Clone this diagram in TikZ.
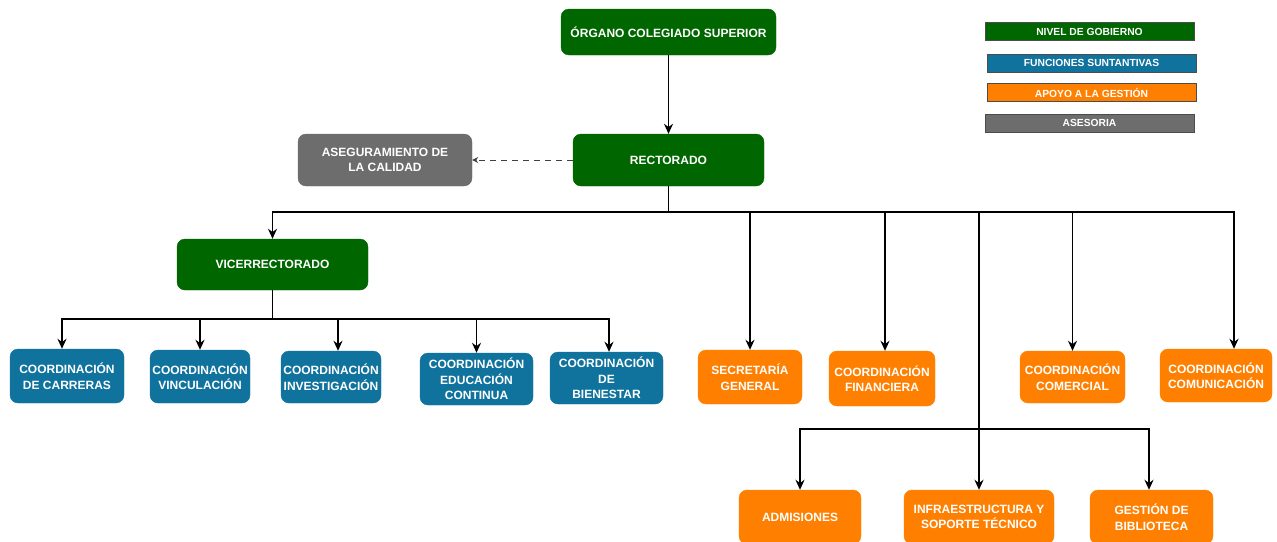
\documentclass[tikz,border=0pt]{standalone}
\usepackage{fontspec}
\setmainfont{Liberation Sans}
\usepackage{tikz}
\usetikzlibrary{positioning}
\usetikzlibrary{arrows.meta}
\definecolor{gob}{HTML}{006600}
\definecolor{fun}{HTML}{10739E}
\definecolor{apo}{HTML}{FF8000}
\definecolor{ase}{HTML}{6D6D6D}

\begin{document}
\begin{tikzpicture}[x=1pt,y=-1pt,
    gob/.style={fill=gob,draw=gob},
    fun/.style={fill=fun,draw=fun},
    apo/.style={fill=apo,draw=apo},
    ase/.style={fill=ase,draw=ase},
    arr/.style={-{Stealth[length=10pt,width=9pt]},line width=1.7pt}]
    \useasboundingbox (0,0) rectangle (1277,541);
    \begin{scope}[every node/.style={rounded corners=8pt,text=white,align=center,inner sep=0pt,
            font=\bfseries\fontsize{12}{15.5}\selectfont}]
        \node[gob,minimum width=215pt,minimum height=46pt](org) at (668.5,32) {ÓRGANO COLEGIADO SUPERIOR};
        \node[gob,minimum width=191pt,minimum height=52pt](rect) at (668.5,160) {RECTORADO};
        \node[ase,minimum width=174pt,minimum height=52pt](aseg) at (385,160) {ASEGURAMIENTO DE\\LA CALIDAD};
        \node[gob,minimum width=191pt,minimum height=51pt](vice) at (272.5,264.5) {VICERRECTORADO};
        % funciones
        \node[fun,minimum width=114pt,minimum height=54pt](carr) at (67,376) {COORDINACIÓN\\DE CARRERAS};
        \node[fun,minimum width=100pt,minimum height=53pt](vinc) at (200,376.5) {COORDINACIÓN\\VINCULACIÓN};
        \node[fun,minimum width=100pt,minimum height=52pt](inv) at (331,377) {COORDINACIÓN\\INVESTIGACIÓN};
        \node[fun,minimum width=113pt,minimum height=52pt](edu) at (476.5,379) {COORDINACIÓN\\EDUCACIÓN\\CONTINUA};
        \node[fun,minimum width=113pt,minimum height=52pt](bien) at (606.5,378) {COORDINACIÓN\\DE\\BIENESTAR};
        % apoyo
        \node[apo,minimum width=104pt,minimum height=54pt](sec) at (750,377) {SECRETARÍA\\GENERAL};
        \node[apo,minimum width=106pt,minimum height=55pt](fin) at (882,378.5) {COORDINACIÓN\\FINANCIERA};
        \node[apo,minimum width=105pt,minimum height=52pt](comr) at (1072.5,377) {COORDINACIÓN\\COMERCIAL};
        \node[apo,minimum width=112pt,minimum height=53pt](comu) at (1216,375.5) {COORDINACIÓN\\COMUNICACIÓN};
        \node[apo,minimum width=122pt,minimum height=54pt](adm) at (800,517) {ADMISIONES};
        \node[apo,minimum width=150pt,minimum height=54pt](infra) at (979,517) {INFRAESTRUCTURA Y\\SOPORTE TÉCNICO};
        \node[apo,minimum width=123pt,minimum height=54pt](gest) at (1151.5,517) {GESTIÓN DE\\BIBLIOTECA};
    \end{scope}
    % leyenda
    \begin{scope}[every node/.style={draw=black!70,line width=0.8pt,text=white,inner sep=0pt,
            minimum width=209pt,minimum height=18pt,font=\bfseries\fontsize{10.3}{12}\selectfont}]
        \node[fill=gob](l1) at (1089.5,31.5) {NIVEL DE GOBIERNO};
        \node[fill=fun](l2) at (1091.5,63) {FUNCIONES SUNTANTIVAS};
        \node[fill=apo](l3) at (1091.5,92.5) {APOYO A LA GESTIÓN};
        \node[fill=ase](l4) at (1089.5,123) {ASESORIA};
    \end{scope}
    %Lines
    \coordinate (busR) at (668.5,212);
    \coordinate (busV) at (272.5,319);
    \coordinate (busI) at (979,429);
    \draw[arr] (org) -- (rect);
    \draw[-{Stealth[length=6pt,width=6pt]},line width=1pt,black!75,dash pattern=on 6pt off 5pt] (rect) -- (aseg);
    \draw[line width=1.7pt] (rect) -- (busR);
    \draw[arr] (busR) -| (vice);
    \draw[arr] (busR) -| (sec);
    \draw[arr] (busR) -| ([xshift=3pt]fin.north);
    \draw[arr] (busR) -| (infra);
    \draw[arr] (busR) -| (comr);
    \draw[arr] (busR) -| ([xshift=18pt]comu.north);
    \draw[line width=1.7pt] (vice) -- (busV);
    \draw[arr] (busV) -| ([xshift=-5pt]carr.north);
    \draw[arr] (busV) -| (vinc);
    \draw[arr] (busV) -| ([xshift=7pt]inv.north);
    \draw[arr] (busV) -| (edu);
    \draw[arr] (busV) -| ([xshift=2.5pt]bien.north);
    \draw[arr] (busI) -| (adm);
    \draw[arr] (busI) -| ([xshift=-2.5pt]gest.north);
\end{tikzpicture}
\end{document}
